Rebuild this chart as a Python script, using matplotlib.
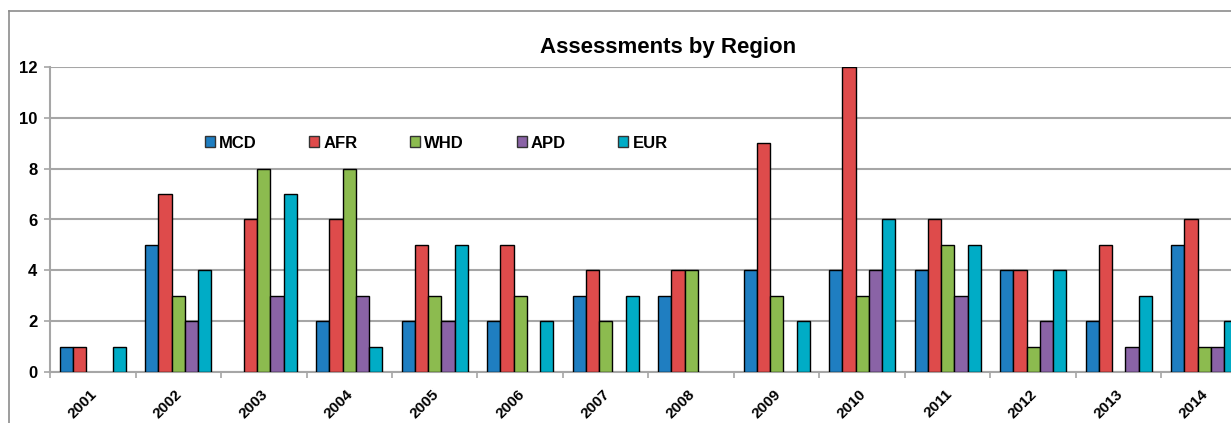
import matplotlib.pyplot as plt
import numpy as np
import matplotlib.transforms as mtransforms
from matplotlib.patches import Patch
from matplotlib.lines import Line2D

years = ["2001", "2002", "2003", "2004", "2005", "2006", "2007",
         "2008", "2009", "2010", "2011", "2012", "2013", "2014"]
regions = ["MCD", "AFR", "WHD", "APD", "EUR"]
mcd = [1, 5, 0, 2, 2, 2, 3, 3, 4, 4, 4, 4, 2, 5]
afr = [1, 7, 6, 6, 5, 5, 4, 4, 9, 12, 6, 4, 5, 6]
whd = [0, 3, 8, 8, 3, 3, 2, 4, 3, 3, 5, 1, 0, 1]
apd = [0, 2, 3, 3, 2, 0, 0, 0, 0, 4, 3, 2, 1, 1]
eur = [1, 4, 7, 1, 5, 2, 3, 0, 2, 6, 5, 4, 3, 2]
colors = ["#1F7EC1", "#DE4B4B", "#8CBB4F", "#8A63A6", "#00ACC6"]

plt.rcParams['font.family'] = ['Liberation Sans', 'DejaVu Sans']
plt.rcParams['font.weight'] = 'bold'

W, H = 1231, 423
fig = plt.figure(figsize=(W / 100, H / 100), dpi=100)
# plot area runs past the right edge, like the cropped original
ax = fig.add_axes([50 / W, (H - 372) / H, (1247 - 50) / W, (372 - 67) / H])

x = np.arange(len(years))
bw = 0.155
series = [mcd, afr, whd, apd, eur]
for i, (vals, c) in enumerate(zip(series, colors)):
    v = np.array(vals)
    nz = v > 0  # zero values draw nothing, as in Excel
    ax.bar(x[nz] + (i - 2) * bw, v[nz], width=bw, color=c, edgecolor="black",
           linewidth=1.0, zorder=3)

ax.set_xlim(-0.5, len(years) - 0.5)
ax.set_ylim(0, 12)
ax.set_yticks(range(0, 13, 2))
ax.grid(axis="y", color="#A6A6A6", linewidth=1.5, zorder=0)

ax.set_xticks(x)
ax.set_xticklabels(years, rotation=45, ha="right", rotation_mode="anchor",
                   fontsize=11, fontweight="bold")
ax.tick_params(axis="x", length=0, pad=11)
shift = mtransforms.ScaledTranslation(-3 / 100, 0, fig.dpi_scale_trans)
for lab in ax.get_xticklabels():
    lab.set_transform(lab.get_transform() + shift)
ax.set_xticks(np.arange(-0.5, len(years), 1), minor=True)
ax.tick_params(axis="x", which="minor", length=4, color="#A6A6A6", width=1.2)
ax.tick_params(axis="y", labelsize=12, length=4, color="#A6A6A6", width=1.2, pad=5)
for lab in ax.get_yticklabels():
    lab.set_fontweight("bold")

for s in ["top", "right"]:
    ax.spines[s].set_visible(False)
for s in ["left", "bottom"]:
    ax.spines[s].set_color("#A6A6A6")
    ax.spines[s].set_linewidth(1.5)

handles = [Patch(facecolor=c, edgecolor="#333333", linewidth=1.0) for c in colors]
leg = ax.legend(handles, regions, ncol=5, loc="center left", frameon=False,
                bbox_to_anchor=(155 / 1197, (372 - 143) / 305),
                borderpad=0, borderaxespad=0,
                handlelength=0.6, handleheight=0.6, handletextpad=0.25,
                columnspacing=3.15, prop={"weight": "bold", "size": 12})

fig.text(668 / W, (H - 47) / H, "Assessments by Region", ha="center", va="center",
         fontsize=16, fontweight="bold")

# outer chart border (top and left visible)
fig.add_artist(Line2D([9 / W, 9 / W], [0, (H - 11) / H], color="#8C8C8C", linewidth=1.2))
fig.add_artist(Line2D([9 / W, 1], [(H - 11) / H, (H - 11) / H], color="#8C8C8C", linewidth=1.2))

fig.savefig("out.png", dpi=100)
